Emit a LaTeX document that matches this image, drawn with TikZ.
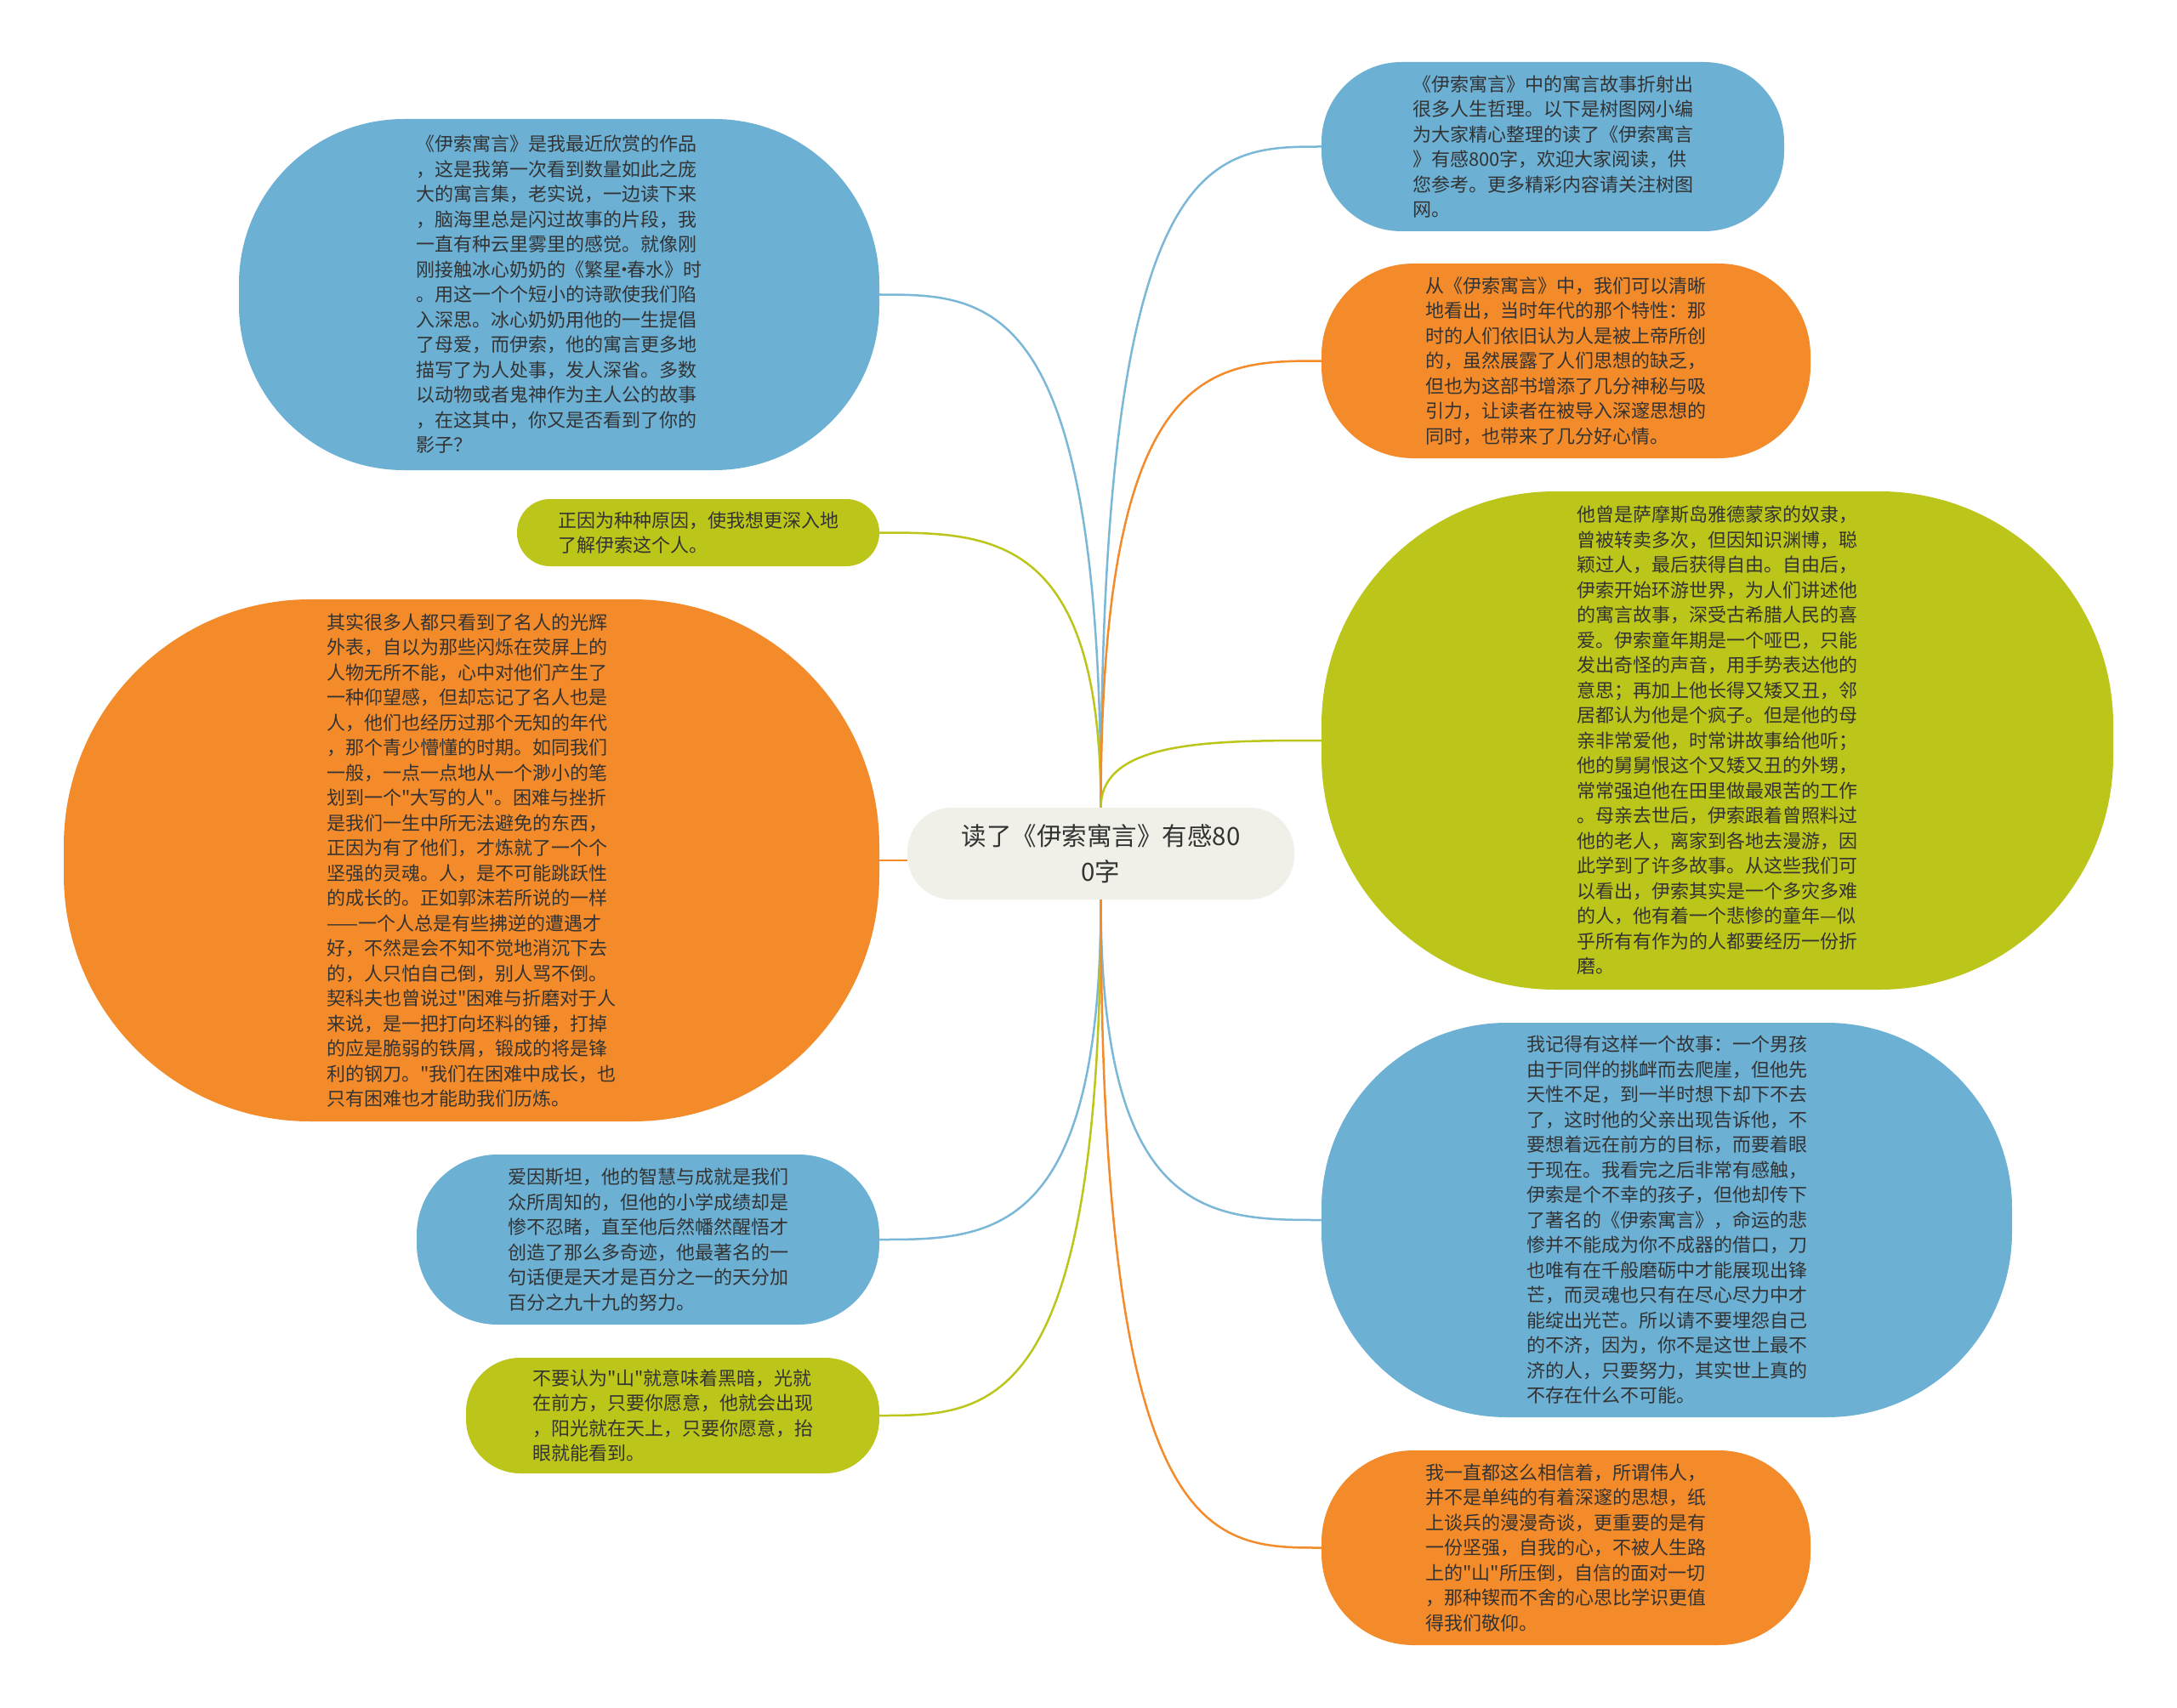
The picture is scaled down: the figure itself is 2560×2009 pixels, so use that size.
\documentclass[tikz,border=0pt]{standalone}
\usepackage{fontspec}
\setmainfont{Noto Sans CJK SC}[Ligatures=TeXOff]
\usetikzlibrary{calc}
\definecolor{nodeblue}{HTML}{6CB0D4}
\definecolor{nodeorange}{HTML}{F48B2A}
\definecolor{nodegreen}{HTML}{BCC519}
\definecolor{nodecenter}{HTML}{F0F0E9}
\definecolor{textdark}{HTML}{333333}
\newcommand\middot{\makebox[0.3em]{·}}
\begin{document}
\begin{tikzpicture}[x=1pt,y=-1pt,
    bubble/.style={inner sep=0pt, align=left, text=textdark,
      font=\fontsize{22}{29.5}\selectfont},
    bluebox/.style={bubble, fill=nodeblue},
    orangebox/.style={bubble, fill=nodeorange},
    greenbox/.style={bubble, fill=nodegreen},
    link/.style={line width=2.5pt},
    bluelink/.style={link, draw=nodeblue!90!white},
    orangelink/.style={link, draw=nodeorange},
    greenlink/.style={link, draw=nodegreen}]
    % Fix the page
    \useasboundingbox[fill=white] (0,0) rectangle (2560,2009);

    % Central topic
    \node[bubble, fill=nodecenter, align=center, minimum width=455, minimum height=108,
      rounded corners=52, font=\fontsize{29.5}{41.7}\selectfont] (ctr) at (1294.5,1004)
      {读了《伊索寓言》有感80\\0字};

    % Left branches
    \node[bluebox, minimum width=753, minimum height=413, rounded corners=194] (tlblue) at (657.5,346.5)
      {《伊索寓言》是我最近欣赏的作品\\，这是我第一次看到数量如此之庞\\大的寓言集，老实说，一边读下来\\，脑海里总是闪过故事的片段，我\\一直有种云里雾里的感觉。就像刚\\刚接触冰心奶奶的《繁星\middot 春水》时\\。用这一个个短小的诗歌使我们陷\\入深思。冰心奶奶用他的一生提倡\\了母爱，而伊索，他的寓言更多地\\描写了为人处事，发人深省。多数\\以动物或者鬼神作为主人公的故事\\，在这其中，你又是否看到了你的\\影子？};
    \node[greenbox, minimum width=426, minimum height=79, rounded corners=39] (lgreen) at (821,626.5)
      {正因为种种原因，使我想更深入地\\了解伊索这个人。};
    \node[orangebox, minimum width=959, minimum height=614, rounded corners=290] (lorange) at (554.5,1012)
      {其实很多人都只看到了名人的光辉\\外表，自以为那些闪烁在荧屏上的\\人物无所不能，心中对他们产生了\\一种仰望感，但却忘记了名人也是\\人，他们也经历过那个无知的年代\\，那个青少懵懂的时期。如同我们\\一般，一点一点地从一个渺小的笔\\划到一个"大写的人"。困难与挫折\\是我们一生中所无法避免的东西，\\正因为有了他们，才炼就了一个个\\坚强的灵魂。人，是不可能跳跃性\\的成长的。正如郭沫若所说的一样\\——一个人总是有些拂逆的遭遇才\\好，不然是会不知不觉地消沉下去\\的，人只怕自己倒，别人骂不倒。\\契科夫也曾说过"困难与折磨对于人\\来说，是一把打向坯料的锤，打掉\\的应是脆弱的铁屑，锻成的将是锋\\利的钢刀。"我们在困难中成长，也\\只有困难也才能助我们历炼。};
    \node[bluebox, minimum width=544, minimum height=200, rounded corners=95] (lblue) at (762,1458)
      {爱因斯坦，他的智慧与成就是我们\\众所周知的，但他的小学成绩却是\\惨不忍睹，直至他后然幡然醒悟才\\创造了那么多奇迹，他最著名的一\\句话便是天才是百分之一的天分加\\百分之九十九的努力。};
    \node[greenbox, minimum width=486, minimum height=136, rounded corners=64] (lgreenb) at (791,1665)
      {不要认为"山"就意味着黑暗，光就\\在前方，只要你愿意，他就会出现\\，阳光就在天上，只要你愿意，抬\\眼就能看到。};

    % Right branches
    \node[bluebox, minimum width=544, minimum height=199, rounded corners=94] (rtblue) at (1826,172.5)
      {《伊索寓言》中的寓言故事折射出\\很多人生哲理。以下是树图网小编\\为大家精心整理的读了《伊索寓言\\》有感800字，欢迎大家阅读，供\\您参考。更多精彩内容请关注树图\\网。};
    \node[orangebox, minimum width=575, minimum height=229, rounded corners=108] (rorange) at (1841.5,424.5)
      {从《伊索寓言》中，我们可以清晰\\地看出，当时年代的那个特性：那\\时的人们依旧认为人是被上帝所创\\的，虽然展露了人们思想的缺乏，\\但也为这部书增添了几分神秘与吸\\引力，让读者在被导入深邃思想的\\同时，也带来了几分好心情。};
    \node[greenbox, minimum width=931, minimum height=586, rounded corners=275] (rgreen) at (2019.5,871)
      {他曾是萨摩斯岛雅德蒙家的奴隶，\\曾被转卖多次，但因知识渊博，聪\\颖过人，最后获得自由。自由后，\\伊索开始环游世界，为人们讲述他\\的寓言故事，深受古希腊人民的喜\\爱。伊索童年期是一个哑巴，只能\\发出奇怪的声音，用手势表达他的\\意思；再加上他长得又矮又丑，邻\\居都认为他是个疯子。但是他的母\\亲非常爱他，时常讲故事给他听；\\他的舅舅恨这个又矮又丑的外甥，\\常常强迫他在田里做最艰苦的工作\\。母亲去世后，伊索跟着曾照料过\\他的老人，离家到各地去漫游，因\\此学到了许多故事。从这些我们可\\以看出，伊索其实是一个多灾多难\\的人，他有着一个悲惨的童年—似\\乎所有有作为的人都要经历一份折\\磨。};
    \node[bluebox, minimum width=812, minimum height=464, rounded corners=218] (rblue) at (1960,1435)
      {我记得有这样一个故事：一个男孩\\由于同伴的挑衅而去爬崖，但他先\\天性不足，到一半时想下却下不去\\了，这时他的父亲出现告诉他，不\\要想着远在前方的目标，而要着眼\\于现在。我看完之后非常有感触，\\伊索是个不幸的孩子，但他却传下\\了著名的《伊索寓言》，命运的悲\\惨并不能成为你不成器的借口，刀\\也唯有在千般磨砺中才能展现出锋\\芒，而灵魂也只有在尽心尽力中才\\能绽出光芒。所以请不要埋怨自己\\的不济，因为，你不是这世上最不\\济的人，只要努力，其实世上真的\\不存在什么不可能。};
    \node[orangebox, minimum width=575, minimum height=229, rounded corners=108] (rorangeb) at (1841.5,1820.5)
      {我一直都这么相信着，所谓伟人，\\并不是单纯的有着深邃的思想，纸\\上谈兵的漫漫奇谈，更重要的是有\\一份坚强，自我的心，不被人生路\\上的"山"所压倒，自信的面对一切\\，那种锲而不舍的心思比学识更值\\得我们敬仰。};

    % Links from the centre
    \draw[bluelink] (ctr.north) .. controls (ctr.north |- tlblue.east) and ($(ctr.north |- tlblue.east)!0.5!(tlblue.east)$) .. (tlblue.east);
    \draw[greenlink] (ctr.north) .. controls (ctr.north |- lgreen.east) and ($(ctr.north |- lgreen.east)!0.5!(lgreen.east)$) .. (lgreen.east);
    \draw[orangelink] (lorange.east) -- (lorange.east -| ctr.west);
    \draw[bluelink] (ctr.south) .. controls (ctr.south |- lblue.east) and ($(ctr.south |- lblue.east)!0.5!(lblue.east)$) .. (lblue.east);
    \draw[greenlink] (ctr.south) .. controls (ctr.south |- lgreenb.east) and ($(ctr.south |- lgreenb.east)!0.5!(lgreenb.east)$) .. (lgreenb.east);

    \draw[bluelink] (ctr.north) .. controls (ctr.north |- rtblue.west) and ($(ctr.north |- rtblue.west)!0.5!(rtblue.west)$) .. (rtblue.west);
    \draw[orangelink] (ctr.north) .. controls (ctr.north |- rorange.west) and ($(ctr.north |- rorange.west)!0.5!(rorange.west)$) .. (rorange.west);
    \draw[greenlink] (ctr.north) .. controls (ctr.north |- rgreen.west) and ($(ctr.north |- rgreen.west)!0.5!(rgreen.west)$) .. (rgreen.west);
    \draw[bluelink] (ctr.south) .. controls (ctr.south |- rblue.west) and ($(ctr.south |- rblue.west)!0.5!(rblue.west)$) .. (rblue.west);
    \draw[orangelink] (ctr.south) .. controls (ctr.south |- rorangeb.west) and ($(ctr.south |- rorangeb.west)!0.5!(rorangeb.west)$) .. (rorangeb.west);
\end{tikzpicture}
\end{document}
